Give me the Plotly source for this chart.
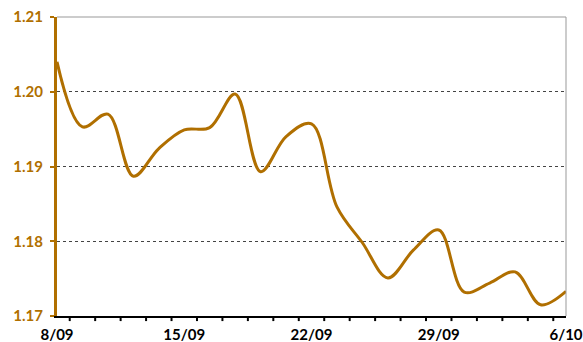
import plotly.graph_objects as go

# Business-day EUR/CHF-style series, 8 Sep – 6 Oct
dates = ["8/09", "9/09", "10/09", "11/09", "12/09",
         "15/09", "16/09", "17/09", "18/09", "19/09",
         "22/09", "23/09", "24/09", "25/09", "26/09",
         "29/09", "30/09", "1/10", "2/10", "3/10",
         "6/10"]
rates = [1.2040, 1.1953, 1.1970, 1.1887, 1.1924,
         1.1949, 1.1952, 1.1997, 1.1893, 1.1940,
         1.1957, 1.1846, 1.1798, 1.1751, 1.1788,
         1.1815, 1.1732, 1.1744, 1.1759, 1.1715,
         1.1733]
tick_labels = ["8/09", "15/09", "22/09", "29/09", "6/10"]
y_ticks = [1.17, 1.18, 1.19, 1.20, 1.21]

GOLD = "#B06F00"
idx = list(range(len(dates)))
tick_pos = [dates.index(t) for t in tick_labels]
# small tick marks sit between consecutive trading days
between_days = [i + 0.5 for i in idx[:-1]]
x_range = [0, len(dates) - 1]

fig = go.Figure()
fig.add_trace(go.Scatter(
    x=idx, y=rates, mode="lines",
    line=dict(color=GOLD, width=3, shape="spline", smoothing=1.0),
    text=dates, hovertemplate="%{text}: %{y:.4f}<extra></extra>",
))

fig.update_layout(
    width=583, height=342,
    margin=dict(l=57, r=17, t=17, b=26, autoexpand=False),
    plot_bgcolor="white", paper_bgcolor="white",
    showlegend=False,
    font=dict(family="Lato, Open Sans, sans-serif"),
    xaxis=dict(
        range=x_range, automargin=False,
        tickmode="array", tickvals=tick_pos, ticktext=tick_labels,
        ticks="outside", ticklen=4, tickcolor="rgba(0,0,0,0)",
        showgrid=False, zeroline=False,
        showline=True, linecolor="black", linewidth=2,
        tickfont=dict(size=15, color="black", family="Lato, sans-serif", weight="bold"),
    ),
    yaxis=dict(
        range=[1.17, 1.21], automargin=False,
        tickvals=y_ticks, ticktext=[f"{v:.2f}" for v in y_ticks],
        ticks="outside", ticklen=4, tickwidth=2, tickcolor=GOLD,
        showgrid=True, gridcolor="#444", gridwidth=1, griddash="dot",
        zeroline=False,
        showline=True, linecolor=GOLD, linewidth=3,
        ticklabelstandoff=4,
        tickfont=dict(size=15, color=GOLD, family="Lato, sans-serif", weight="bold"),
    ),
)

# Day-separator tick marks hanging below the baseline (paper coords so they
# are not clipped to the plotting area)
span = x_range[1] - x_range[0]
for xv in between_days:
    xp = (xv - x_range[0]) / span
    fig.add_shape(type="line", xref="paper", yref="paper", x0=xp, x1=xp,
                  y0=-0.004, y1=-0.017, line=dict(color="black", width=2),
                  layer="above")

# Light frame along the top and right of the plotting area
fig.add_shape(type="line", xref="paper", yref="paper", x0=1, x1=1, y0=0, y1=1,
              line=dict(color="#999", width=1))
fig.add_shape(type="line", xref="paper", yref="paper", x0=0, x1=1, y0=1, y1=1,
              line=dict(color="#999", width=1))

fig.write_html("out.html")
